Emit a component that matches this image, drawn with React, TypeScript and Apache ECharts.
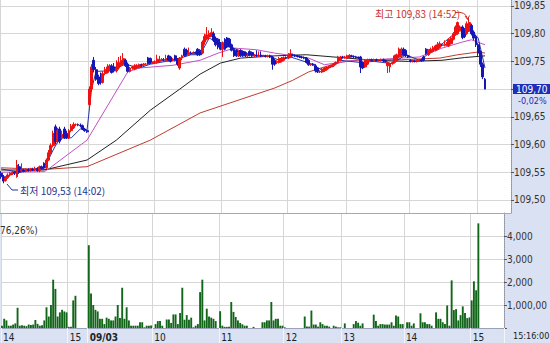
import React, { useEffect, useRef } from 'react';
import * as echarts from 'echarts';

// ---- time axis: 2-minute slots, hour separators ----
const hourLabels = ['14', '15', '09/03', '10', '11', '12', '13', '14', '15'];
const hourStarts = [0, 30, 39, 68, 98, 127, 153, 181, 211];
const slotCount = 226;

// ---- price axis ticks ----
const priceTicks = [109.5, 109.55, 109.6, 109.65, 109.7, 109.75, 109.8, 109.85];
const priceMin = 109.4764;
const priceMax = 109.8608;
const lastPrice = '109,70';
const lastChange = '-0,02%';
const volumeMax = 5000;

// ---- candles [open, close, low, high] ----
const c14a = [
  [109.548, 109.542, 109.538, 109.552], [109.542, 109.534, 109.530, 109.545], [109.535, 109.540, 109.533, 109.543],
  [109.540, 109.545, 109.538, 109.548], [109.545, 109.548, 109.542, 109.550], [109.548, 109.550, 109.545, 109.552],
  [109.550, 109.548, 109.545, 109.552], [109.542, 109.563, 109.540, 109.572], [109.560, 109.550, 109.547, 109.565],
  [109.552, 109.555, 109.550, 109.566], [109.554, 109.552, 109.550, 109.556], [109.552, 109.555, 109.550, 109.557],
  [109.555, 109.553, 109.551, 109.557], [109.553, 109.556, 109.551, 109.558], [109.556, 109.554, 109.552, 109.558],
  [109.554, 109.557, 109.552, 109.560], [109.557, 109.553, 109.551, 109.559], [109.553, 109.560, 109.550, 109.562],
  [109.560, 109.557, 109.555, 109.562], [109.566, 109.558, 109.556, 109.568], [109.558, 109.572, 109.556, 109.575],
  [109.572, 109.585, 109.570, 109.590], [109.585, 109.598, 109.582, 109.602], [109.598, 109.620, 109.595, 109.625],
  [109.632, 109.605, 109.600, 109.636], [109.605, 109.625, 109.602, 109.630], [109.628, 109.606, 109.602, 109.632],
  [109.612, 109.618, 109.608, 109.625], [109.628, 109.612, 109.610, 109.632], [109.620, 109.612, 109.610, 109.625],
];
const c15a = [
  [109.612, 109.625, 109.610, 109.628], [109.625, 109.633, 109.622, 109.637], [109.630, 109.636, 109.628, 109.640],
  [109.636, 109.636, 109.633, 109.638], [109.636, 109.635, 109.633, 109.638], [109.635, 109.634, 109.631, 109.638],
  [109.634, 109.628, 109.626, 109.636], [109.628, 109.625, 109.623, 109.630], [109.625, 109.623, 109.621, 109.627],
];
const c09 = [
  [109.672, 109.700, 109.668, 109.705], [109.700, 109.740, 109.695, 109.745], [109.752, 109.735, 109.730, 109.758],
  [109.735, 109.718, 109.715, 109.740], [109.722, 109.710, 109.707, 109.726], [109.720, 109.712, 109.708, 109.730],
  [109.712, 109.728, 109.710, 109.732], [109.728, 109.735, 109.725, 109.740], [109.730, 109.740, 109.728, 109.745],
  [109.735, 109.742, 109.732, 109.745], [109.742, 109.730, 109.728, 109.745], [109.740, 109.733, 109.730, 109.747],
  [109.733, 109.738, 109.730, 109.752], [109.738, 109.748, 109.735, 109.758], [109.742, 109.752, 109.740, 109.760],
  [109.745, 109.755, 109.742, 109.765], [109.752, 109.742, 109.740, 109.755], [109.745, 109.732, 109.730, 109.748],
  [109.732, 109.738, 109.730, 109.740], [109.738, 109.740, 109.735, 109.742], [109.736, 109.742, 109.734, 109.745],
  [109.738, 109.743, 109.736, 109.745], [109.740, 109.744, 109.738, 109.746], [109.744, 109.743, 109.740, 109.746],
  [109.743, 109.745, 109.742, 109.747], [109.745, 109.745, 109.743, 109.747], [109.756, 109.746, 109.744, 109.758],
  [109.755, 109.747, 109.745, 109.757], [109.747, 109.748, 109.745, 109.750],
];
const c10 = [
  [109.748, 109.750, 109.746, 109.752], [109.748, 109.754, 109.746, 109.762], [109.750, 109.752, 109.748, 109.760],
  [109.752, 109.753, 109.750, 109.756], [109.753, 109.752, 109.750, 109.756], [109.752, 109.755, 109.750, 109.762],
  [109.760, 109.752, 109.750, 109.762], [109.758, 109.750, 109.748, 109.760], [109.752, 109.754, 109.750, 109.756],
  [109.760, 109.752, 109.750, 109.762], [109.754, 109.745, 109.742, 109.756], [109.738, 109.756, 109.735, 109.758],
  [109.756, 109.760, 109.752, 109.762], [109.772, 109.760, 109.758, 109.775], [109.770, 109.762, 109.760, 109.773],
  [109.762, 109.766, 109.760, 109.775], [109.765, 109.764, 109.762, 109.768], [109.764, 109.766, 109.762, 109.768],
  [109.766, 109.765, 109.763, 109.768], [109.772, 109.762, 109.760, 109.774], [109.770, 109.762, 109.760, 109.772],
  [109.765, 109.785, 109.763, 109.788], [109.785, 109.795, 109.780, 109.800], [109.790, 109.798, 109.788, 109.812],
  [109.794, 109.800, 109.790, 109.806], [109.796, 109.802, 109.794, 109.810], [109.800, 109.788, 109.785, 109.804],
  [109.792, 109.780, 109.777, 109.795], [109.790, 109.776, 109.772, 109.792], [109.782, 109.772, 109.770, 109.785],
];
const c11 = [
  [109.772, 109.784, 109.758, 109.786], [109.790, 109.772, 109.770, 109.792], [109.792, 109.776, 109.774, 109.794],
  [109.790, 109.778, 109.775, 109.792], [109.780, 109.770, 109.768, 109.782], [109.772, 109.760, 109.758, 109.775],
  [109.770, 109.760, 109.758, 109.772], [109.760, 109.766, 109.758, 109.770], [109.770, 109.760, 109.758, 109.772],
  [109.768, 109.760, 109.758, 109.770], [109.766, 109.760, 109.758, 109.768], [109.760, 109.762, 109.758, 109.765],
  [109.768, 109.761, 109.759, 109.770], [109.766, 109.760, 109.758, 109.768], [109.760, 109.761, 109.758, 109.763],
  [109.761, 109.760, 109.758, 109.770], [109.760, 109.761, 109.758, 109.768], [109.761, 109.760, 109.758, 109.768],
  [109.760, 109.760, 109.758, 109.762], [109.760, 109.759, 109.757, 109.762], [109.759, 109.760, 109.757, 109.762],
  [109.760, 109.758, 109.756, 109.762], [109.758, 109.745, 109.735, 109.760], [109.752, 109.745, 109.742, 109.755],
  [109.748, 109.750, 109.745, 109.752], [109.748, 109.755, 109.746, 109.758], [109.750, 109.756, 109.748, 109.758],
  [109.752, 109.757, 109.750, 109.759], [109.757, 109.756, 109.754, 109.759],
];
const c12 = [
  [109.756, 109.762, 109.754, 109.765], [109.758, 109.764, 109.756, 109.772], [109.762, 109.761, 109.759, 109.764],
  [109.761, 109.760, 109.758, 109.763], [109.760, 109.759, 109.757, 109.762], [109.759, 109.758, 109.756, 109.761],
  [109.758, 109.757, 109.755, 109.760], [109.757, 109.756, 109.754, 109.759], [109.756, 109.748, 109.746, 109.758],
  [109.752, 109.744, 109.742, 109.754], [109.744, 109.745, 109.742, 109.747], [109.745, 109.744, 109.742, 109.747],
  [109.742, 109.733, 109.730, 109.745], [109.738, 109.731, 109.729, 109.740], [109.731, 109.732, 109.729, 109.734],
  [109.731, 109.736, 109.729, 109.738], [109.733, 109.738, 109.731, 109.740], [109.735, 109.739, 109.733, 109.741],
  [109.738, 109.740, 109.736, 109.742], [109.740, 109.742, 109.738, 109.744], [109.742, 109.745, 109.740, 109.747],
  [109.745, 109.748, 109.743, 109.750], [109.748, 109.758, 109.746, 109.760], [109.752, 109.758, 109.750, 109.760],
  [109.758, 109.757, 109.755, 109.760], [109.757, 109.758, 109.755, 109.760],
];
const c13 = [
  [109.756, 109.760, 109.754, 109.762], [109.757, 109.761, 109.755, 109.763], [109.760, 109.759, 109.757, 109.762],
  [109.759, 109.758, 109.756, 109.761], [109.758, 109.757, 109.755, 109.760], [109.757, 109.756, 109.754, 109.759],
  [109.758, 109.740, 109.729, 109.760], [109.748, 109.738, 109.736, 109.750], [109.740, 109.752, 109.738, 109.754],
  [109.745, 109.752, 109.743, 109.755], [109.752, 109.753, 109.750, 109.755], [109.753, 109.752, 109.750, 109.755],
  [109.752, 109.753, 109.750, 109.755], [109.753, 109.752, 109.750, 109.755], [109.752, 109.752, 109.750, 109.754],
  [109.752, 109.753, 109.750, 109.755], [109.753, 109.751, 109.749, 109.755], [109.751, 109.750, 109.748, 109.753],
  [109.742, 109.748, 109.729, 109.750], [109.740, 109.746, 109.730, 109.748], [109.746, 109.748, 109.744, 109.750],
  [109.748, 109.760, 109.746, 109.762], [109.752, 109.762, 109.750, 109.764], [109.758, 109.772, 109.756, 109.775],
  [109.760, 109.772, 109.758, 109.775], [109.772, 109.762, 109.760, 109.775], [109.770, 109.760, 109.758, 109.772],
  [109.760, 109.758, 109.756, 109.762],
];
const c14 = [
  [109.752, 109.750, 109.748, 109.754], [109.750, 109.751, 109.748, 109.753], [109.751, 109.750, 109.748, 109.753],
  [109.750, 109.751, 109.748, 109.753], [109.751, 109.752, 109.749, 109.754], [109.752, 109.751, 109.749, 109.754],
  [109.758, 109.752, 109.750, 109.760], [109.772, 109.764, 109.762, 109.774], [109.762, 109.770, 109.760, 109.772],
  [109.766, 109.772, 109.764, 109.775], [109.768, 109.775, 109.766, 109.778], [109.770, 109.778, 109.768, 109.780],
  [109.772, 109.780, 109.770, 109.785], [109.775, 109.782, 109.773, 109.786], [109.780, 109.779, 109.777, 109.782],
  [109.779, 109.780, 109.777, 109.788], [109.780, 109.781, 109.778, 109.785], [109.778, 109.790, 109.776, 109.792],
  [109.782, 109.792, 109.780, 109.795], [109.790, 109.800, 109.788, 109.803], [109.798, 109.812, 109.796, 109.815],
  [109.800, 109.820, 109.798, 109.822], [109.806, 109.812, 109.804, 109.815], [109.812, 109.793, 109.790, 109.815],
  [109.808, 109.795, 109.792, 109.810], [109.800, 109.818, 109.798, 109.822], [109.805, 109.820, 109.803, 109.830],
  [109.815, 109.800, 109.797, 109.818], [109.803, 109.792, 109.788, 109.806], [109.795, 109.780, 109.776, 109.798],
];
const c15 = [
  [109.780, 109.765, 109.760, 109.783], [109.768, 109.745, 109.740, 109.770], [109.745, 109.722, 109.718, 109.748],
  [109.718, 109.700, 109.700, 109.720],
];

// ---- volume per slot ----
const v14a = [100, 400, 330, 100, 100, 150, 200, 880, 100, 120, 100, 80, 150, 130, 150, 350, 180, 100, 120, 330, 900, 500, 1000, 2100, 1700, 500, 680, 790, 720, 680];
const v15a = [50, 50, 1200, 1400, 0, 0, 0, 0, 0];
const v09 = [3600, 1500, 1000, 790, 720, 400, 400, 170, 450, 400, 330, 330, 500, 1000, 430, 1750, 400, 900, 330, 100, 100, 100, 100, 250, 250, 30, 100, 100, 110];
const v10 = [0, 170, 300, 300, 100, 0, 370, 370, 220, 590, 590, 170, 650, 1750, 360, 560, 360, 450, 30, 100, 170, 1560, 2100, 330, 840, 500, 450, 400, 300, 0];
const v11 = [730, 100, 50, 50, 50, 1130, 700, 480, 330, 220, 160, 100, 100, 0, 0, 50, 0, 0, 0, 250, 250, 330, 330, 1130, 330, 400, 400, 100, 100];
const v12 = [30, 0, 0, 0, 0, 0, 0, 0, 0, 500, 60, 60, 760, 150, 150, 60, 250, 170, 100, 100, 60, 0, 100, 60, 30, 30];
const v13 = [0, 200, 0, 0, 0, 170, 300, 230, 100, 200, 0, 0, 0, 0, 580, 300, 100, 170, 170, 150, 150, 150, 250, 100, 540, 500, 170, 170];
const v14 = [0, 250, 250, 100, 200, 0, 0, 640, 250, 250, 170, 170, 100, 0, 680, 400, 400, 250, 170, 980, 100, 2070, 780, 820, 330, 560, 940, 650, 430, 460];
const v15 = [1200, 2030, 1640, 4550];

// ---- moving averages: [slot, value] ----
const maBlue = [
  [0, 109.556], [8, 109.550], [19, 109.557], [23, 109.590], [26, 109.612], [31, 109.612], [35, 109.628], [38, 109.626],
  [40, 109.700], [42, 109.732], [48, 109.733], [55, 109.745], [61, 109.738], [66, 109.745], [77, 109.753], [84, 109.762],
  [88, 109.762], [92, 109.792], [97, 109.782], [104, 109.772], [110, 109.762], [119, 109.759], [123, 109.752], [128, 109.758],
  [137, 109.746], [142, 109.734], [150, 109.752], [159, 109.748], [165, 109.750], [173, 109.746], [179, 109.762], [185, 109.752],
  [194, 109.778], [202, 109.805], [208, 109.805], [211, 109.792], [214, 109.738],
];
const maViolet = [
  [0, 109.550], [19, 109.551], [21, 109.556], [38, 109.608], [56, 109.731], [61, 109.738], [76, 109.743], [88, 109.752],
  [96, 109.765], [103, 109.774], [113, 109.771], [121, 109.765], [136, 109.756], [143, 109.744], [151, 109.749], [158, 109.753],
  [165, 109.753], [177, 109.756], [185, 109.758], [195, 109.774], [204, 109.785], [208, 109.789], [214, 109.780],
];
const maBlack = [
  [0, 109.554], [19, 109.554], [38, 109.572], [51, 109.608], [66, 109.662], [79, 109.700], [88, 109.727], [97, 109.747],
  [106, 109.756], [121, 109.760], [135, 109.762], [150, 109.757], [165, 109.752], [180, 109.750], [195, 109.752], [205, 109.757],
  [214, 109.760],
];
const maRed = [
  [0, 109.558], [19, 109.555], [38, 109.560], [66, 109.608], [88, 109.657], [121, 109.702], [129, 109.716], [136, 109.731],
  [143, 109.740], [151, 109.749], [160, 109.753], [177, 109.753], [194, 109.756], [202, 109.762], [211, 109.767], [214, 109.765],
];

const candles = [...c14a, ...c15a, ...c09, ...c10, ...c11, ...c12, ...c13, ...c14, ...c15];
const volumes = [...v14a, ...v15a, ...v09, ...v10, ...v11, ...v12, ...v13, ...v14, ...v15];

const FONT = "'Liberation Sans Narrow', 'DejaVu Sans Condensed', 'Liberation Sans', sans-serif";
const KFONT = "'Liberation Sans Narrow', 'Noto Sans CJK KR', sans-serif";

export default function App() {
  const ref = useRef<HTMLDivElement>(null);
  useEffect(() => {
    if (!ref.current) return;
    const chart = echarts.init(ref.current, undefined, { renderer: 'svg' });
    const cats = Array.from({ length: slotCount }, (_, i) => String(i));
    const isHour = (i: number) => hourStarts.indexOf(i) >= 0;
    const gridColor = '#d6d6d6';
    const fmtPrice = (v: number) => v.toFixed(2).replace('.', ',');

    const lineSeries = (data: number[][], color: string) => ({
      type: 'line', xAxisIndex: 0, yAxisIndex: 0, data, showSymbol: false, symbol: 'none',
      lineStyle: { color, width: 1 }, silent: true, z: 3,
    });

    chart.setOption({
      animation: false,
      grid: [
        { left: 0, top: 0, right: 39, height: 213, show: true, backgroundColor: '#ffffff', borderWidth: 0 },
        { left: 0, top: 213, right: 39, height: 115, show: true, backgroundColor: '#ffffff', borderWidth: 0 },
      ],
      xAxis: [
        {
          type: 'category', gridIndex: 0, data: cats, boundaryGap: true,
          axisLine: { show: false }, axisTick: { show: false }, axisLabel: { show: false },
          splitLine: { show: true, interval: (i: number) => isHour(i), lineStyle: { color: gridColor, width: 1 } },
        },
        {
          type: 'category', gridIndex: 1, data: cats, boundaryGap: true,
          axisLine: { show: true, lineStyle: { color: '#9aa3b5', width: 1 } },
          axisTick: { show: true, interval: (i: number) => isHour(i), length: 15, lineStyle: { color: '#f3f5fa', width: 1 } },
          axisLabel: {
            show: true, interval: (i: number) => isHour(i), align: 'left', margin: 4,
            fontSize: 10, fontFamily: FONT, color: '#222', padding: [0, 0, 0, 1],
            formatter: (_v: string, idx: number) => {
              const k = hourStarts.indexOf(idx);
              if (k < 0) return '';
              const t = hourLabels[k];
              return t === '09/03' ? `{b|${t}}` : t;
            },
            rich: { b: { fontWeight: 'bold', fontSize: 10, fontFamily: FONT, color: '#222' } },
          },
          splitLine: { show: true, interval: (i: number) => isHour(i), lineStyle: { color: gridColor, width: 1 } },
        },
      ],
      yAxis: [
        {
          type: 'value', gridIndex: 0, position: 'right', min: priceMin, max: priceMax, scale: true,
          axisLine: { show: true, lineStyle: { color: '#8891a6', width: 1, type: 'dotted' } },
          axisTick: { show: true, length: 3, customValues: priceTicks, lineStyle: { color: '#555' } },
          axisLabel: {
            show: true, customValues: priceTicks.filter((v) => Math.abs(v - 109.7) > 1e-6), margin: 3,
            fontSize: 10, fontFamily: FONT, color: '#333', formatter: (v: number) => fmtPrice(v),
          },
          splitLine: { show: true, lineStyle: { color: gridColor, width: 1 } },
        },
        {
          type: 'value', gridIndex: 1, position: 'right', min: 0, max: volumeMax, interval: 1000,
          axisLine: { show: true, lineStyle: { color: '#8891a6', width: 1, type: 'dotted' } },
          axisTick: { show: true, length: 3, lineStyle: { color: '#555' } },
          axisLabel: {
            show: true, margin: 3, fontSize: 10, fontFamily: FONT, color: '#333',
            formatter: (v: number) => (v === 0 || v === volumeMax ? '' : v === 1000 ? '1,000,00' : v.toLocaleString('en-US')),
          },
          splitLine: { show: true, lineStyle: { color: gridColor, width: 1 } },
        },
      ],
      series: [
        lineSeries(maRed, '#c23a2e'),
        lineSeries(maBlack, '#222222'),
        lineSeries(maViolet, '#c24fc2'),
        {
          type: 'candlestick', xAxisIndex: 0, yAxisIndex: 0, data: candles, barWidth: 2.4, z: 4,
          itemStyle: { color: '#ee1111', color0: '#1616b8', borderColor: '#ee1111', borderColor0: '#1616b8', borderWidth: 1 },
        },
        lineSeries(maBlue, '#2536a6'),
        {
          type: 'bar', xAxisIndex: 1, yAxisIndex: 1, data: volumes, barWidth: '85%',
          itemStyle: { color: '#12661a' }, silent: true,
        },
      ],
      graphic: [
        { type: 'line', shape: { x1: 0, y1: 213.5, x2: 511, y2: 213.5 }, style: { stroke: '#a8a8a8', lineWidth: 1 }, z: 20 },
        { type: 'rect', shape: { x: 513, y: 84, width: 37, height: 10 }, style: { fill: '#1f2db8' }, z: 20 },
        { type: 'text', x: 516, y: 89, style: { text: lastPrice, fill: '#ffffff', fontSize: 10, fontFamily: FONT, verticalAlign: 'middle' }, z: 21 },
        { type: 'text', x: 518, y: 100.5, style: { text: lastChange, fill: '#1f2db8', fontSize: 9, fontFamily: FONT, verticalAlign: 'middle' }, z: 21 },
        { type: 'text', x: 513, y: 336, style: { text: '15:16:00', fill: '#222', fontSize: 9, fontFamily: FONT, verticalAlign: 'middle' }, z: 21 },
        { type: 'text', x: 0, y: 230, style: { text: '76,26%)', fill: '#333', fontSize: 10, fontFamily: FONT, verticalAlign: 'middle' }, z: 21 },
        { type: 'text', x: 375, y: 13, style: { text: '최고 109,83 (14:52)', fill: '#c8332b', fontSize: 10, fontFamily: KFONT, verticalAlign: 'middle' }, z: 21 },
        { type: 'bezierCurve', shape: { x1: 455, y1: 12.5, cpx1: 466, cpy1: 11, x2: 467.5, y2: 19 }, style: { stroke: '#c8332b', lineWidth: 1, fill: 'none' }, z: 21 },
        { type: 'polyline', shape: { points: [[465, 16], [467.5, 19.5], [469.5, 15.5]] }, style: { stroke: '#c8332b', lineWidth: 1, fill: 'none' }, z: 21 },
        { type: 'polyline', shape: { points: [[7, 184], [12, 190], [18, 190]] }, style: { stroke: '#24348f', lineWidth: 1, fill: 'none' }, z: 21 },
        { type: 'text', x: 20, y: 190, style: { text: '최저 109,53 (14:02)', fill: '#24348f', fontSize: 10, fontFamily: KFONT, verticalAlign: 'middle' }, z: 21 },
      ],
    });
    return () => chart.dispose();
  }, []);
  return (
    <div
      ref={ref}
      style={{ position: 'absolute', left: 0, top: 0, width: 550, height: 343, background: '#d9e1f2' }}
    />
  );
}
